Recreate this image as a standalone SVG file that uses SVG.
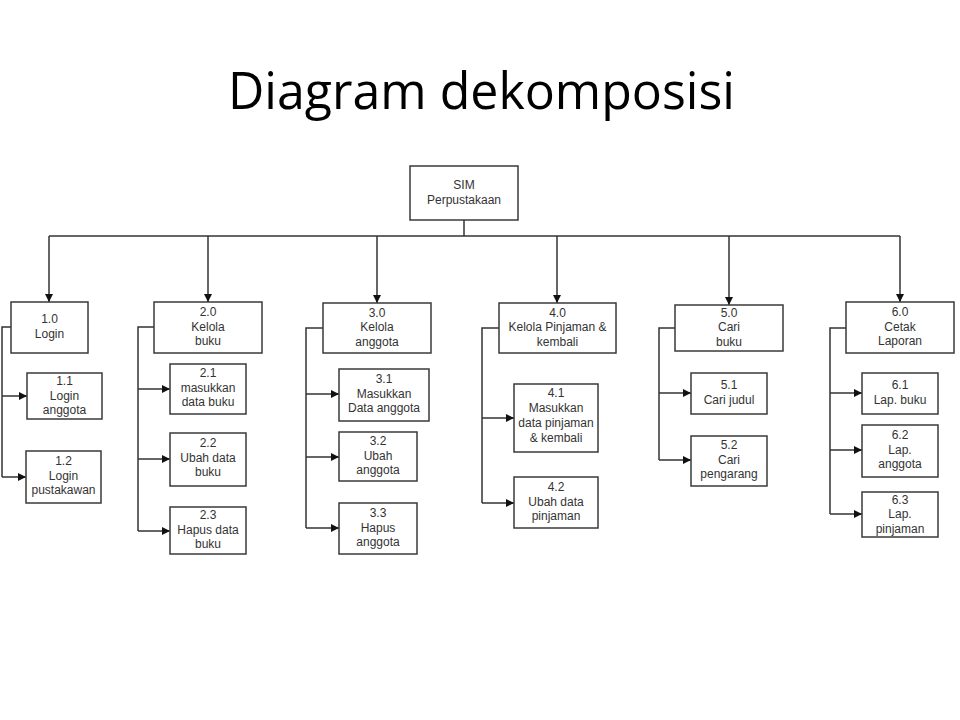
<svg xmlns="http://www.w3.org/2000/svg" width="960" height="720" viewBox="0 0 960 720">
<style>
.box{fill:#fff;stroke:#3a3a3a;stroke-width:1.5}
.lbl{font-family:"Liberation Sans",Arial,sans-serif;font-size:12px;fill:#333;text-anchor:middle}
.con{fill:none;stroke:#333;stroke-width:1.5}
.title{font-family:"Open Sans","Lato",sans-serif;font-size:52px;fill:#000}
</style>
<defs>
<marker id="ah" markerWidth="10" markerHeight="10" refX="9" refY="5" orient="auto" markerUnits="userSpaceOnUse">
<path d="M1,1 L9,5 L1,9 Z" fill="#111"/>
</marker>
</defs>
<rect width="960" height="720" fill="#fff"/>
<text class="title" x="228" y="109" textLength="507" lengthAdjust="spacingAndGlyphs">Diagram dekomposisi</text>

<g id="connectors">
<path class="con" d="M464,220 V236"/>
<path class="con" d="M49,236 H900"/>
<path class="con" d="M49,236 V302" marker-end="url(#ah)"/>
<path class="con" d="M208,236 V302" marker-end="url(#ah)"/>
<path class="con" d="M377,236 V303" marker-end="url(#ah)"/>
<path class="con" d="M557,236 V303" marker-end="url(#ah)"/>
<path class="con" d="M729,236 V305" marker-end="url(#ah)"/>
<path class="con" d="M900,236 V302" marker-end="url(#ah)"/>

<path class="con" d="M11,327 H2 V477"/>
<path class="con" d="M2,396 H27" marker-end="url(#ah)"/>
<path class="con" d="M2,477 H26" marker-end="url(#ah)"/>

<path class="con" d="M154,327 H138 V531"/>
<path class="con" d="M138,389 H170" marker-end="url(#ah)"/>
<path class="con" d="M138,459 H170" marker-end="url(#ah)"/>
<path class="con" d="M138,531 H170" marker-end="url(#ah)"/>

<path class="con" d="M323,328 H306 V528"/>
<path class="con" d="M306,394 H339" marker-end="url(#ah)"/>
<path class="con" d="M306,457 H339" marker-end="url(#ah)"/>
<path class="con" d="M306,528 H339" marker-end="url(#ah)"/>

<path class="con" d="M499,328 H482 V503"/>
<path class="con" d="M482,418 H514" marker-end="url(#ah)"/>
<path class="con" d="M482,503 H514" marker-end="url(#ah)"/>

<path class="con" d="M675,328 H659 V460"/>
<path class="con" d="M659,393 H691" marker-end="url(#ah)"/>
<path class="con" d="M659,460 H691" marker-end="url(#ah)"/>

<path class="con" d="M846,328 H830 V514"/>
<path class="con" d="M830,393 H862" marker-end="url(#ah)"/>
<path class="con" d="M830,450 H862" marker-end="url(#ah)"/>
<path class="con" d="M830,514 H862" marker-end="url(#ah)"/>
</g>

<g id="n0"><rect class="box" x="410" y="166" width="108" height="54"/>
<text class="lbl" x="464" y="189">SIM</text><text class="lbl" x="464" y="203.5">Perpustakaan</text></g>

<g id="n1"><rect class="box" x="11" y="302" width="77" height="51"/>
<text class="lbl" x="49.5" y="323">1.0</text><text class="lbl" x="49.5" y="337.5">Login</text></g>
<g id="n2"><rect class="box" x="154" y="302" width="108" height="51"/>
<text class="lbl" x="208" y="316">2.0</text><text class="lbl" x="208" y="330.5">Kelola</text><text class="lbl" x="208" y="345">buku</text></g>
<g id="n3"><rect class="box" x="323" y="303" width="108" height="50"/>
<text class="lbl" x="377" y="316.5">3.0</text><text class="lbl" x="377" y="331">Kelola</text><text class="lbl" x="377" y="345.5">anggota</text></g>
<g id="n4"><rect class="box" x="499" y="303" width="117" height="50"/>
<text class="lbl" x="557.5" y="316.5">4.0</text><text class="lbl" x="557.5" y="331">Kelola Pinjaman &amp;</text><text class="lbl" x="557.5" y="345.5">kembali</text></g>
<g id="n5"><rect class="box" x="675" y="305" width="108" height="46"/>
<text class="lbl" x="729" y="316.5">5.0</text><text class="lbl" x="729" y="331">Cari</text><text class="lbl" x="729" y="345.5">buku</text></g>
<g id="n6"><rect class="box" x="846" y="302" width="108" height="51"/>
<text class="lbl" x="900" y="316">6.0</text><text class="lbl" x="900" y="330.5">Cetak</text><text class="lbl" x="900" y="345">Laporan</text></g>

<g id="n1_1"><rect class="box" x="27" y="373" width="75" height="46"/>
<text class="lbl" x="64.5" y="385">1.1</text><text class="lbl" x="64.5" y="399.5">Login</text><text class="lbl" x="64.5" y="414">anggota</text></g>
<g id="n1_2"><rect class="box" x="26" y="451" width="75" height="52"/>
<text class="lbl" x="63.5" y="465">1.2</text><text class="lbl" x="63.5" y="479.5">Login</text><text class="lbl" x="63.5" y="494">pustakawan</text></g>

<g id="n2_1"><rect class="box" x="170" y="364" width="76" height="50"/>
<text class="lbl" x="208" y="377">2.1</text><text class="lbl" x="208" y="391.5">masukkan</text><text class="lbl" x="208" y="406">data buku</text></g>
<g id="n2_2"><rect class="box" x="170" y="433" width="76" height="53"/>
<text class="lbl" x="208" y="447">2.2</text><text class="lbl" x="208" y="461.5">Ubah data</text><text class="lbl" x="208" y="476">buku</text></g>
<g id="n2_3"><rect class="box" x="170" y="507" width="76" height="47"/>
<text class="lbl" x="208" y="519">2.3</text><text class="lbl" x="208" y="533.5">Hapus data</text><text class="lbl" x="208" y="548">buku</text></g>

<g id="n3_1"><rect class="box" x="339" y="369" width="90" height="52"/>
<text class="lbl" x="384" y="383">3.1</text><text class="lbl" x="384" y="397.5">Masukkan</text><text class="lbl" x="384" y="412">Data anggota</text></g>
<g id="n3_2"><rect class="box" x="339" y="432" width="78" height="49"/>
<text class="lbl" x="378" y="445">3.2</text><text class="lbl" x="378" y="459.5">Ubah</text><text class="lbl" x="378" y="474">anggota</text></g>
<g id="n3_3"><rect class="box" x="339" y="503" width="78" height="51"/>
<text class="lbl" x="378" y="517">3.3</text><text class="lbl" x="378" y="531.5">Hapus</text><text class="lbl" x="378" y="546">anggota</text></g>

<g id="n4_1"><rect class="box" x="514" y="384" width="84" height="68"/>
<text class="lbl" x="556" y="397">4.1</text><text class="lbl" x="556" y="412">Masukkan</text><text class="lbl" x="556" y="427">data pinjaman</text><text class="lbl" x="556" y="442">&amp; kembali</text></g>
<g id="n4_2"><rect class="box" x="514" y="477" width="84" height="51"/>
<text class="lbl" x="556" y="491">4.2</text><text class="lbl" x="556" y="505.5">Ubah data</text><text class="lbl" x="556" y="520">pinjaman</text></g>

<g id="n5_1"><rect class="box" x="691" y="373" width="76" height="41"/>
<text class="lbl" x="729" y="389">5.1</text><text class="lbl" x="729" y="403.5">Cari judul</text></g>
<g id="n5_2"><rect class="box" x="691" y="436" width="76" height="50"/>
<text class="lbl" x="729" y="449">5.2</text><text class="lbl" x="729" y="463.5">Cari</text><text class="lbl" x="729" y="478">pengarang</text></g>

<g id="n6_1"><rect class="box" x="862" y="373" width="76" height="41"/>
<text class="lbl" x="900" y="389">6.1</text><text class="lbl" x="900" y="403.5">Lap. buku</text></g>
<g id="n6_2"><rect class="box" x="862" y="425" width="76" height="52"/>
<text class="lbl" x="900" y="439">6.2</text><text class="lbl" x="900" y="453.5">Lap.</text><text class="lbl" x="900" y="468">anggota</text></g>
<g id="n6_3"><rect class="box" x="862" y="492" width="76" height="45"/>
<text class="lbl" x="900" y="503.5">6.3</text><text class="lbl" x="900" y="518">Lap.</text><text class="lbl" x="900" y="532.5">pinjaman</text></g>
</svg>
